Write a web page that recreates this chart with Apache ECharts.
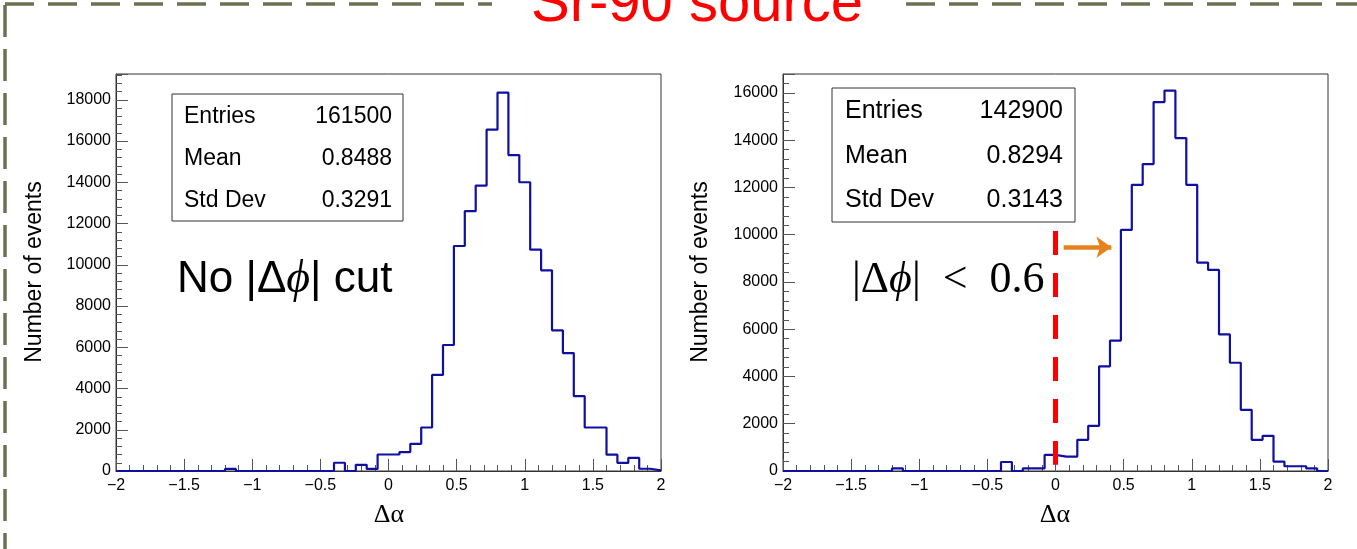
<!DOCTYPE html>
<html><head><meta charset="utf-8">
<script src="https://cdn.jsdelivr.net/npm/echarts@6/dist/echarts.min.js"></script>
<style>html,body{margin:0;padding:0;background:#fff}#c{width:1357px;height:549px}</style>
</head><body><div id="c"></div>
<script>
// ---- data ----
const binStart = -2;
const binWidth = 0.08;
const countsNoCut = [
  0,0,0,0,0,0,0,0,0,0,
  100,0,0,0,0,0,0,0,0,0,
  400,0,300,100,800,
  800,920,1320,2110,4660,
  6110,10910,12600,13840,16550,
  18350,15320,14000,10730,9730,
  6820,5720,3630,2110,2110,
  790,390,640,110,30
];
const countsCut = [
  0,0,0,0,0,0,0,0,0,0,
  110,0,0,0,0,0,0,0,0,0,
  380,0,110,110,680,
  610,610,1320,1910,4430,
  5520,10200,12110,12990,15610,
  16100,14090,12110,8820,8510,
  5780,4580,2590,1320,1490,
  400,200,200,110,0
];
const xMin = -2, xMax = 2, xInterval = 0.5;
const yMaxNoCut = 19250, yMaxCut = 16800, yInterval = 2000;
const statsNoCut = [["Entries","161500"],["Mean","0.8488"],["Std Dev","0.3291"]];
const statsCut = [["Entries","142900"],["Mean","0.8294"],["Std Dev","0.3143"]];
const titleText = "Sr-90 source";
const yName = "Number of events";
const xName = "Δα";
const cutValue = 0;            // position of the dashed cut line on Δα
const cutLineY = [10160, 260];  // vertical extent of dashed cut line (events)
const arrowX = [0.06, 0.41];    // arrow extent on Δα
const arrowY = 9470;            // arrow height (events)

// ---- helpers ----
function stepData(counts){
  const pts = counts.map((c,i)=>[+(binStart+i*binWidth).toFixed(2), c]);
  pts.push([+(binStart+counts.length*binWidth).toFixed(2), counts[counts.length-1]]);
  return pts;
}
const SANS = '"Liberation Sans", Arial, Helvetica, sans-serif';
const SERIF = '"Liberation Serif", "DejaVu Serif", serif';
const frameColor = '#333';
const histColor = '#1010a0';

function xAxisCfg(gi){
  return {
    type:'value', gridIndex:gi, min:xMin, max:xMax, interval:xInterval,
    axisLine:{show:true, onZero:false, lineStyle:{color:frameColor,width:1}},
    axisTick:{show:true, inside:true, length:12, lineStyle:{color:'#555',width:1}},
    minorTick:{show:true, splitNumber:5, length:6, lineStyle:{color:'#555',width:1}},
    splitLine:{show:false}, minorSplitLine:{show:false},
    axisLabel:{color:'#000', fontSize:16, fontFamily:SANS, margin:7,
      formatter:v=>String(v).replace('-', '\u2212')}
  };
}
function yAxisCfg(gi,max){
  return {
    type:'value', gridIndex:gi, min:0, max:max, interval:yInterval,
    axisLine:{show:true, onZero:false, lineStyle:{color:frameColor,width:1}},
    axisTick:{show:true, inside:true, length:12, lineStyle:{color:'#555',width:1}},
    minorTick:{show:true, splitNumber:5, length:6, lineStyle:{color:'#555',width:1}},
    splitLine:{show:false}, minorSplitLine:{show:false},
    axisLabel:{color:'#000', fontSize:16, fontFamily:SANS, margin:5, showMaxLabel:false,
      formatter:v=>String(v)}
  };
}

function statBox(x,y,w,h,stats,fs,labelX,valueX,rows){
  const els = [{type:'rect', shape:{x:x,y:y,width:w,height:h},
    style:{fill:'#fff', stroke:frameColor, lineWidth:1}, z:10}];
  stats.forEach((s,i)=>{
    els.push({type:'text', x:labelX, y:rows[i], z:11,
      style:{text:s[0], font:`${fs}px ${SANS}`, fill:'#000', align:'left', verticalAlign:'middle'}});
    els.push({type:'text', x:valueX, y:rows[i], z:11,
      style:{text:s[1], font:`${fs}px ${SANS}`, fill:'#000', align:'right', verticalAlign:'middle'}});
  });
  return els;
}

const borderColor = '#6b7252';
const graphics = [
  {type:'line', shape:{x1:5,y1:4,x2:492,y2:4}, style:{stroke:borderColor,lineWidth:3.5,lineDash:[29,14]}},
  {type:'line', shape:{x1:906,y1:4,x2:1357,y2:4}, style:{stroke:borderColor,lineWidth:3.5,lineDash:[29,14]}},
  {type:'line', shape:{x1:5,y1:5,x2:5,y2:549}, style:{stroke:borderColor,lineWidth:3.5,lineDash:[32,12]}},
  {type:'text', x:697, y:5, style:{text:titleText, font:`58px ${SANS}`, fill:'#ff0000', align:'center', verticalAlign:'middle'}},
  {type:'text', x:35, y:272, rotation:Math.PI/2, style:{text:yName, font:`23px ${SANS}`, fill:'#000', align:'center', verticalAlign:'middle'}},
  {type:'text', x:701, y:272, rotation:Math.PI/2, style:{text:yName, font:`23px ${SANS}`, fill:'#000', align:'center', verticalAlign:'middle'}},
  {type:'text', x:389, y:515, style:{text:xName, font:`26px ${SERIF}`, fill:'#000', align:'center', verticalAlign:'middle'}},
  {type:'text', x:1055, y:515, style:{text:xName, font:`26px ${SERIF}`, fill:'#000', align:'center', verticalAlign:'middle'}},
  ...statBox(172,94,231,127,statsNoCut,23,184,392,[117,159,201]),
  ...statBox(832,88,243,134,statsCut,25,845,1063,[111,156,200]),
  {type:'text', x:177, y:280, z:12, style:{
    text:'{a|No |Δ}{b|ϕ}{a|| cut}', verticalAlign:'middle', align:'left',
    rich:{a:{fontSize:44,fontFamily:SANS,fill:'#000'}, b:{fontSize:46,fontFamily:SERIF,fontStyle:'italic',fill:'#000'}}}},
  {type:'text', x:852, y:280, z:12, style:{
    text:'{a||Δ}{b|ϕ}{a||  <  0.6}', verticalAlign:'middle', align:'left',
    rich:{a:{fontSize:44,fontFamily:SERIF,fill:'#000'}, b:{fontSize:44,fontFamily:SERIF,fontStyle:'italic',fill:'#000'}}}}
];

const chart = echarts.init(document.getElementById('c'), null, {renderer:'canvas'});
chart.setOption({
  animation:false,
  backgroundColor:'#fff',
  grid:[
    {left:116, top:74, width:545, height:397, show:true, borderColor:frameColor, borderWidth:1, backgroundColor:'transparent'},
    {left:783, top:74, width:545, height:397, show:true, borderColor:frameColor, borderWidth:1, backgroundColor:'transparent'}
  ],
  xAxis:[xAxisCfg(0), xAxisCfg(1)],
  yAxis:[yAxisCfg(0,yMaxNoCut), yAxisCfg(1,yMaxCut)],
  series:[
    {type:'line', xAxisIndex:0, yAxisIndex:0, step:'end', symbol:'none',
     data:stepData(countsNoCut), lineStyle:{color:histColor,width:2.2}, z:5},
    {type:'line', xAxisIndex:1, yAxisIndex:1, step:'end', symbol:'none',
     data:stepData(countsCut), lineStyle:{color:histColor,width:2.2}, z:5,
     markLine:{silent:true, animation:false, symbol:['none','none'], label:{show:false}, z:8,
       data:[
         [{coord:[cutValue,cutLineY[0]], symbol:'none', lineStyle:{color:'#ff0000',width:5,type:[24,18]}},
          {coord:[cutValue,cutLineY[1]], symbol:'none'}],
         [{coord:[arrowX[0],arrowY], symbol:'none', lineStyle:{color:'#e5821e',width:4.5,type:'solid'}},
          {coord:[arrowX[1],arrowY], symbol:'arrow', symbolSize:[16,15]}]
       ]}}
  ],
  graphic:graphics
});
</script></body></html>
